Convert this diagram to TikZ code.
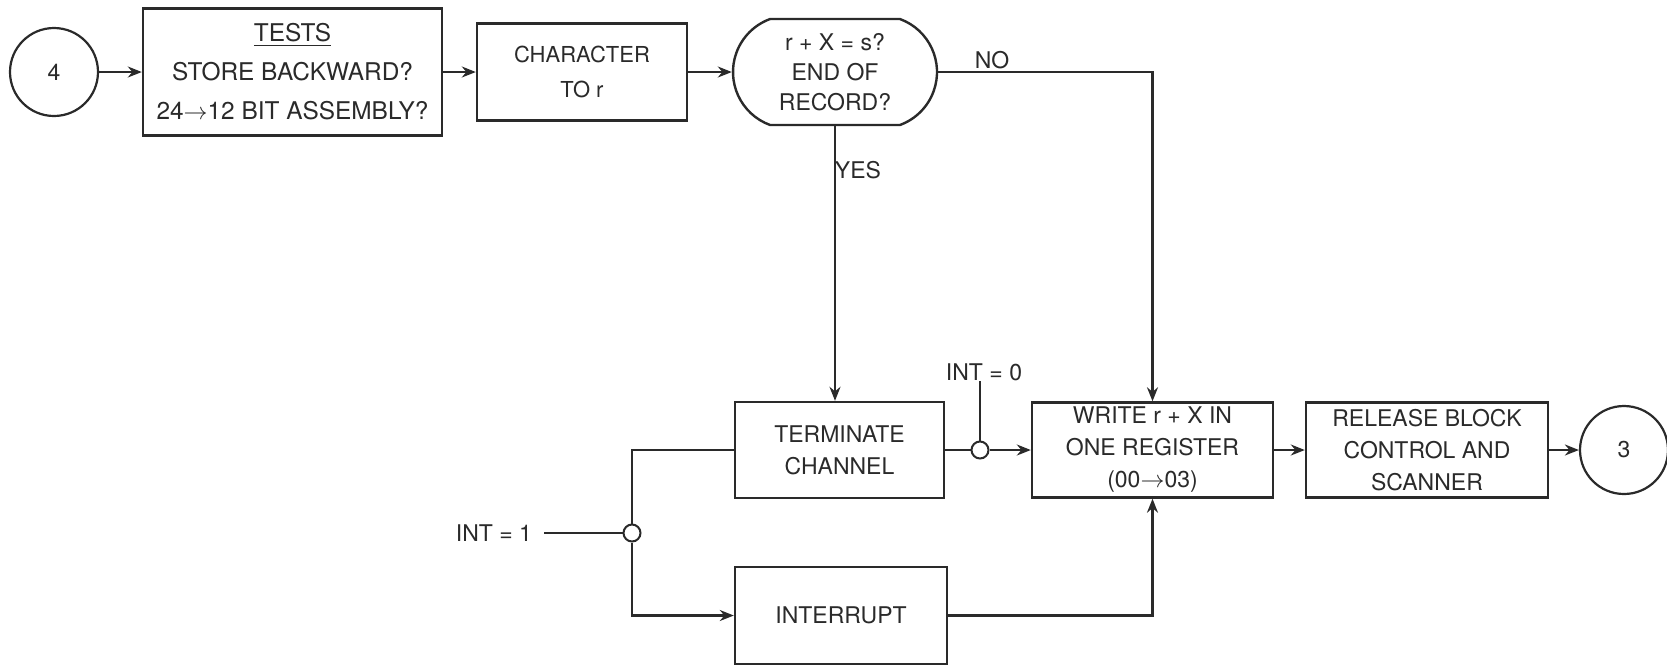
\documentclass[tikz,border=0pt]{standalone}
\usepackage{fontspec}
\setmainfont{TeX Gyre Heros}
\usepackage{xcolor}
\usepackage{tikz}
\usetikzlibrary{arrows.meta,shapes.misc}
\definecolor{inkdark}{HTML}{2A2A2A}

\tikzset{
  flowbox/.style={draw=inkdark, text=inkdark, line width=1.2pt, align=center, inner sep=0pt,
    font=\fontsize{11.5}{16}\selectfont},
  terminal/.style={draw=inkdark, text=inkdark, circle, line width=1.1pt, minimum size=44pt,
    inner sep=0pt, font=\fontsize{11.5}{13}\selectfont},
  junction/.style={draw=inkdark, circle, line width=1pt, minimum size=8.5pt, inner sep=0pt},
  flowline/.style={draw=inkdark, line width=1.1pt},
  flowarrow/.style={flowline, -{Stealth[length=7pt,width=5.5pt]}},
  flowlabel/.style={text=inkdark, font=\fontsize{11.5}{13}\selectfont, inner sep=0pt}
}

\begin{document}
\begin{tikzpicture}[x=0.5pt, y=-0.5pt]
  \useasboundingbox (0,0) rectangle (1667,666);

  \node[terminal] (start) at (54,72) {4};
  \node[flowbox, minimum width=149.5pt, minimum height=63.5pt, font=\fontsize{12.2}{19.5}\selectfont]
    (tests) at (292.5,72) {\underline{TESTS}\\STORE BACKWARD?\\24$\rightarrow$12 BIT ASSEMBLY?};
  \node[flowbox, minimum width=105pt, minimum height=48.5pt, font=\fontsize{11}{17.5}\selectfont]
    (chr) at (582,72) {CHARACTER\\TO r};
  \node[flowbox, rounded rectangle, rounded rectangle arc length=140, minimum width=102pt,
    minimum height=53pt, font=\fontsize{11.5}{15}\selectfont]
    (check) at (835,72) {r + X = s?\\END OF\\RECORD?};

  \node[flowbox, minimum width=104.5pt, minimum height=48pt] (term) at (839.5,450) {TERMINATE\\CHANNEL};
  \node[flowbox, minimum width=106pt, minimum height=48.5pt] (intr) at (841,615.5) {INTERRUPT};
  \node[flowbox, minimum width=120.5pt, minimum height=47.5pt]
    (write) at (1152.5,450) {WRITE r + X IN\\ONE REGISTER\\(00$\rightarrow$03)};
  \node[flowbox, minimum width=121pt, minimum height=47.5pt]
    (release) at (1427,450) {RELEASE BLOCK\\CONTROL AND\\SCANNER};
  \node[terminal] (finish) at (1624,450) {3};

  \node[junction] (gate0) at (980,450) {};
  \node[junction] (gate1) at (632,533) {};
  \node[flowlabel] (int0) at (984,372) {INT = 0};
  \node[flowlabel] (int1) at (494,533) {INT = 1};
  \node[flowlabel] (nolabel) at (992,60) {NO};
  \node[flowlabel] (yeslabel) at (858,170) {YES};

  \draw[flowarrow] (start) -- (tests);
  \draw[flowarrow] (tests) -- (chr);
  \draw[flowarrow] (chr) -- (check);
  \draw[flowarrow] (check.east) -| (write.north);
  \draw[flowarrow] (check.south) -- (check.south |- term.north);
  \draw[flowline] (term.east) -- (gate0.west);
  \draw[flowarrow] (gate0) -- (write);
  \draw[flowline] (gate0.north) -- (gate0.north |- int0.south);
  \draw[flowline, shorten <=6pt] (int1.east) -- (gate1.west);
  \draw[flowline] (gate1.north) |- (term.west);
  \draw[flowarrow] (gate1.south) |- (intr.west);
  \draw[flowarrow] (intr.east) -| (write.south);
  \draw[flowarrow] (write) -- (release);
  \draw[flowarrow] (release) -- (finish);
\end{tikzpicture}
\end{document}
